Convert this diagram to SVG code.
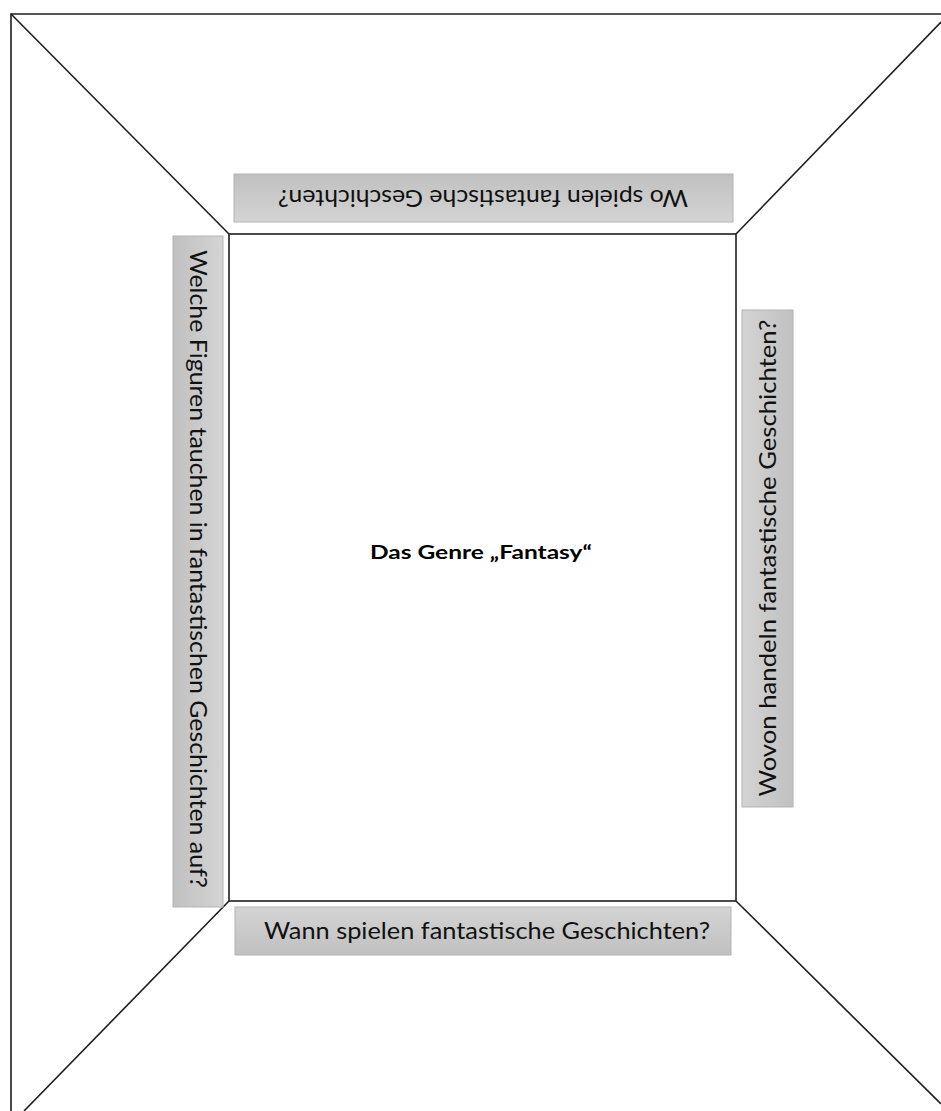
<svg xmlns="http://www.w3.org/2000/svg" width="941" height="1111" viewBox="0 0 941 1111">
<style>
.ln{stroke:#1e1e1e;stroke-width:1.6;fill:none}
.box{stroke:#b4b4b4;stroke-width:1}
.lbl{font-family:Lato,"Noto Sans",sans-serif;font-size:23px;fill:#111}
.ttl{font-family:Lato,"Noto Sans",sans-serif;font-size:19px;font-weight:bold;fill:#000}
</style>
<defs>
<linearGradient id="gv" x1="0" y1="0" x2="0" y2="1"><stop offset="0" stop-color="#d4d4d4"/><stop offset="1" stop-color="#c0c0c0"/></linearGradient>
<linearGradient id="gvr" x1="0" y1="1" x2="0" y2="0"><stop offset="0" stop-color="#d4d4d4"/><stop offset="1" stop-color="#c0c0c0"/></linearGradient>
<linearGradient id="gh" x1="1" y1="0" x2="0" y2="0"><stop offset="0" stop-color="#d4d4d4"/><stop offset="1" stop-color="#c0c0c0"/></linearGradient>
<linearGradient id="ghr" x1="0" y1="0" x2="1" y2="0"><stop offset="0" stop-color="#d4d4d4"/><stop offset="1" stop-color="#c0c0c0"/></linearGradient>
</defs>
<rect width="941" height="1111" fill="#fff"/>
<g id="connectors">
<path class="ln" d="M11,1111 L11,14 L941,14"/>
<line class="ln" x1="11" y1="14" x2="229" y2="234"/>
<line class="ln" x1="941" y1="22" x2="736" y2="234"/>
<line class="ln" x1="229" y1="901" x2="24" y2="1111"/>
<line class="ln" x1="736" y1="901" x2="941" y2="1104"/>
</g>
<g id="center">
<rect class="ln" x="229" y="234" width="507" height="667" fill="#fff"/>
<text class="ttl" x="481" y="559" text-anchor="middle" textLength="222" lengthAdjust="spacingAndGlyphs">Das Genre „Fantasy“</text>
</g>
<g id="top">
<rect class="box" x="234" y="174" width="499" height="48" fill="url(#gvr)"/>
<text class="lbl" transform="translate(483,198) rotate(180)" x="0" y="8" text-anchor="middle" textLength="410" lengthAdjust="spacingAndGlyphs">Wo spielen fantastische Geschichten?</text>
</g>
<g id="left">
<rect class="box" x="173" y="236" width="50" height="671" fill="url(#gh)"/>
<text class="lbl" transform="translate(198,569) rotate(90)" x="0" y="8" text-anchor="middle" textLength="638" lengthAdjust="spacingAndGlyphs">Welche Figuren tauchen in fantastischen Geschichten auf?</text>
</g>
<g id="right">
<rect class="box" x="742" y="310" width="51" height="497" fill="url(#ghr)"/>
<text class="lbl" transform="translate(768,558) rotate(-90)" x="0" y="8" text-anchor="middle" textLength="477" lengthAdjust="spacingAndGlyphs">Wovon handeln fantastische Geschichten?</text>
</g>
<g id="bottom">
<rect class="box" x="235" y="907" width="496" height="48" fill="url(#gv)"/>
<text class="lbl" x="487" y="939" text-anchor="middle" textLength="446" lengthAdjust="spacingAndGlyphs">Wann spielen fantastische Geschichten?</text>
</g>
</svg>
